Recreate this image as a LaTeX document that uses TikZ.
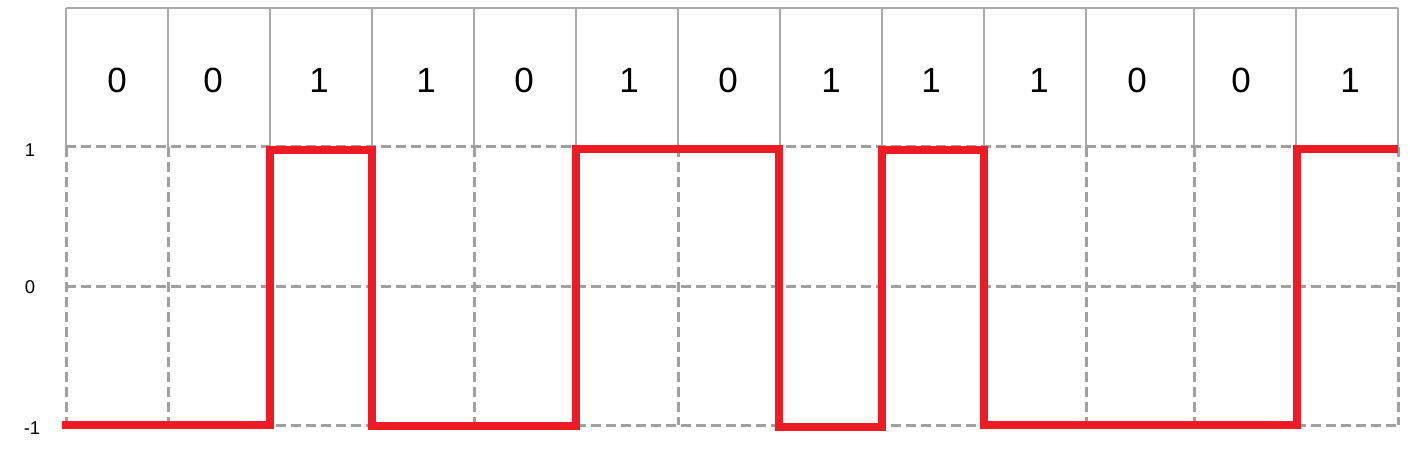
\documentclass[tikz,border=0pt]{standalone}
\usepackage{fontspec}
\setmainfont{Liberation Sans}
\definecolor{sigred}{RGB}{237,28,36}
\definecolor{gridgray}{RGB}{160,160,160}
\definecolor{headgray}{RGB}{170,170,170}
\begin{document}
\begin{tikzpicture}[x=1pt,y=-1pt,
  headline/.style={draw=headgray, line width=1.5pt},
  gridline/.style={draw=gridgray, line width=3pt, dash pattern=on 10pt off 5pt},
  signal/.style={draw=sigred, line width=7.5pt, line join=miter, line cap=butt},
  bit/.style={font=\fontsize{35}{40}\selectfont, inner sep=0pt},
  level/.style={font=\fontsize{18.5}{22}\selectfont, inner sep=0pt}]
\useasboundingbox (0,0) rectangle (1410,449);
\fill[white] (0,0) rectangle (1410,449);
% column borders
\def\cols{66,168,270,372,474,576,678,780,882,984,1086,1194,1296,1398}
% header
\draw[headline] (66,8) -- (1398,8);
\foreach \xx in \cols{
  \draw[headline] (\xx,8) -- (\xx,147);
}
% dashed grid
\foreach \yy in {147,286,425}{
  \draw[gridline] (66,\yy) -- (1398,\yy);
}
\foreach \xx in \cols{
  \draw[gridline] (\xx,147) -- (\xx,425);
}
% bits
\foreach \b/\xc [count=\k from 0] in {0/117,0/213,1/319,1/426,0/524,1/629,0/728,1/831,1/931,1/1039,0/1137,0/1241,1/1350}{
  \node[bit] (b\k) at (\xc,80) {\b};
}
% levels
\node[level] (lp) at (30,150) {1};
\node[level] (lz) at (30,287) {0};
\node[level] (lm) at (32,428) {-1};
% signal
\coordinate (s0) at (62,425);
\coordinate (s1) at (1398,149);
\draw[signal] (s0) -- (270,425) -- (270,150) -- (372,150)
  -- (372,426) -- (576,426) -- (576,149) -- (779,149)
  -- (779,427) -- (882,427) -- (882,150) -- (984,150)
  -- (984,425) -- (1297,425) -- (1297,149) -- (s1);
\end{tikzpicture}
\end{document}
